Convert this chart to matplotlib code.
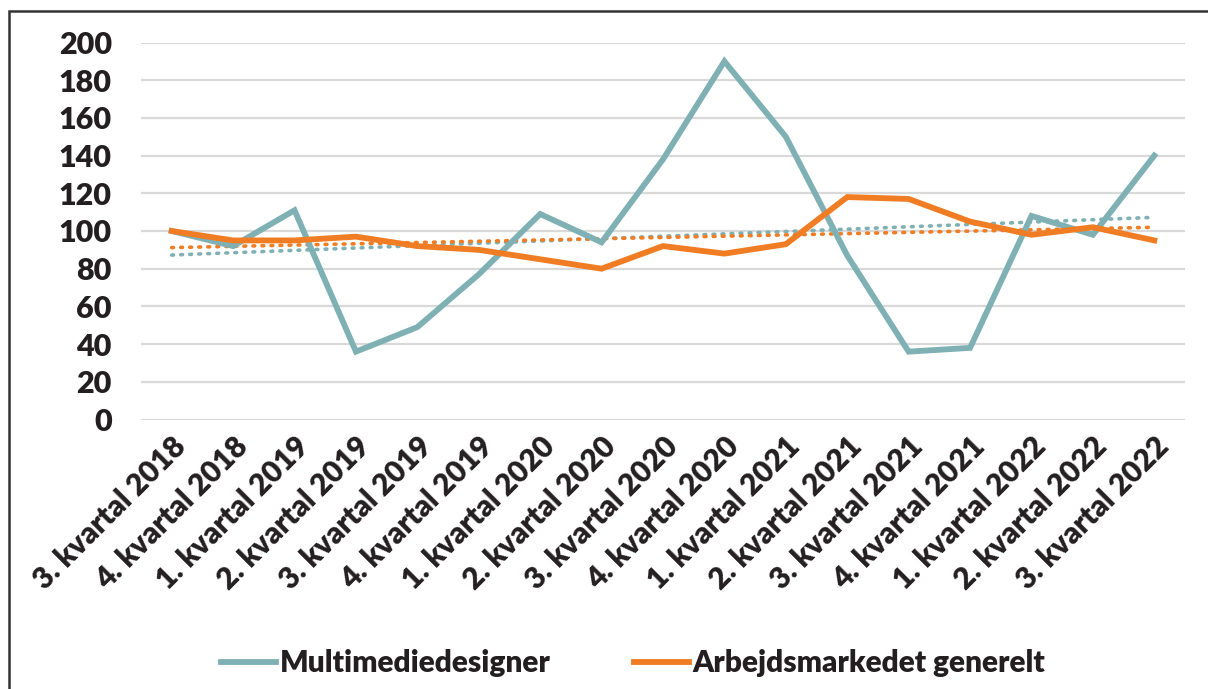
import numpy as np
import matplotlib
matplotlib.use('Agg')
import matplotlib.pyplot as plt
from matplotlib.patches import Rectangle

# Data
kvartaler = ['3. kvartal 2018', '4. kvartal 2018', '1. kvartal 2019', '2. kvartal 2019',
             '3. kvartal 2019', '4. kvartal 2019', '1. kvartal 2020', '2. kvartal 2020',
             '3. kvartal 2020', '4. kvartal 2020', '1. kvartal 2021', '2. kvartal 2021',
             '3. kvartal 2021', '4. kvartal 2021', '1. kvartal 2022', '2. kvartal 2022',
             '3. kvartal 2022']
multimedie = [100, 92, 111, 36, 49, 77, 109, 94, 138, 190, 150, 87, 36, 38, 108, 98, 140]
arbejdsmarked = [100, 95, 95, 97, 92, 90, 85, 80, 92, 88, 93, 118, 117, 105, 98, 102, 95]
yticks = [0, 20, 40, 60, 80, 100, 120, 140, 160, 180, 200]

teal = '#7FB0B4'
orange = '#F07D24'
txt = '#231F20'
plt.rcParams['font.family'] = ['Lato', 'DejaVu Sans']

fig = plt.figure(figsize=(12.08, 6.89), dpi=100)
ax = fig.add_axes([141/1208, 1-419.5/689, (1185-141)/1208, (419.5-42.5)/689])

x = np.arange(len(kvartaler))
# trendlinjer (lineær)
for serie, c in [(multimedie, teal), (arbejdsmarked, orange)]:
    k = np.polyfit(x, serie, 1)
    ax.plot(x, np.polyval(k, x), color=c, lw=2.6, ls=(0, (0.5, 2.0)),
            dash_capstyle='round', zorder=2)

ax.plot(x, multimedie, color=teal, lw=4.2, label='Multimediedesigner', zorder=3,
        solid_joinstyle='miter')
ax.plot(x, arbejdsmarked, color=orange, lw=4.2, label='Arbejdsmarkedet generelt', zorder=4,
        solid_joinstyle='miter')

ax.set_xlim(-0.5, len(kvartaler) - 0.5)
ax.set_ylim(0, 200)
ax.set_yticks(yticks)
ax.set_yticklabels([str(v) for v in yticks], fontsize=22, fontweight='heavy', color=txt)
ax.yaxis.grid(True, color='#D9D9D9', lw=1.6)
ax.set_axisbelow(True)
ax.tick_params(axis='y', length=0, pad=21)
ax.tick_params(axis='x', length=0, pad=9)
ax.set_xticks(x)
ax.set_xticklabels(kvartaler, rotation=45, ha='right', rotation_mode='anchor',
                   fontsize=21.5, fontweight='heavy', color=txt)
for s in ax.spines.values():
    s.set_visible(False)

fig.legend(loc='center', bbox_to_anchor=(633/1208, 1-663/689), ncol=2, frameon=False,
           prop={'size': 21.5, 'weight': 'heavy'}, handlelength=1.85, handletextpad=0.12,
           columnspacing=2.8, labelcolor=txt)

# ramme
fig.patches.append(Rectangle((9/1208, -0.05), 1.2, 1-11/689+0.05, transform=fig.transFigure,
                             fill=False, edgecolor='#333333', lw=1.8))

fig.savefig('out.png', dpi=100)
